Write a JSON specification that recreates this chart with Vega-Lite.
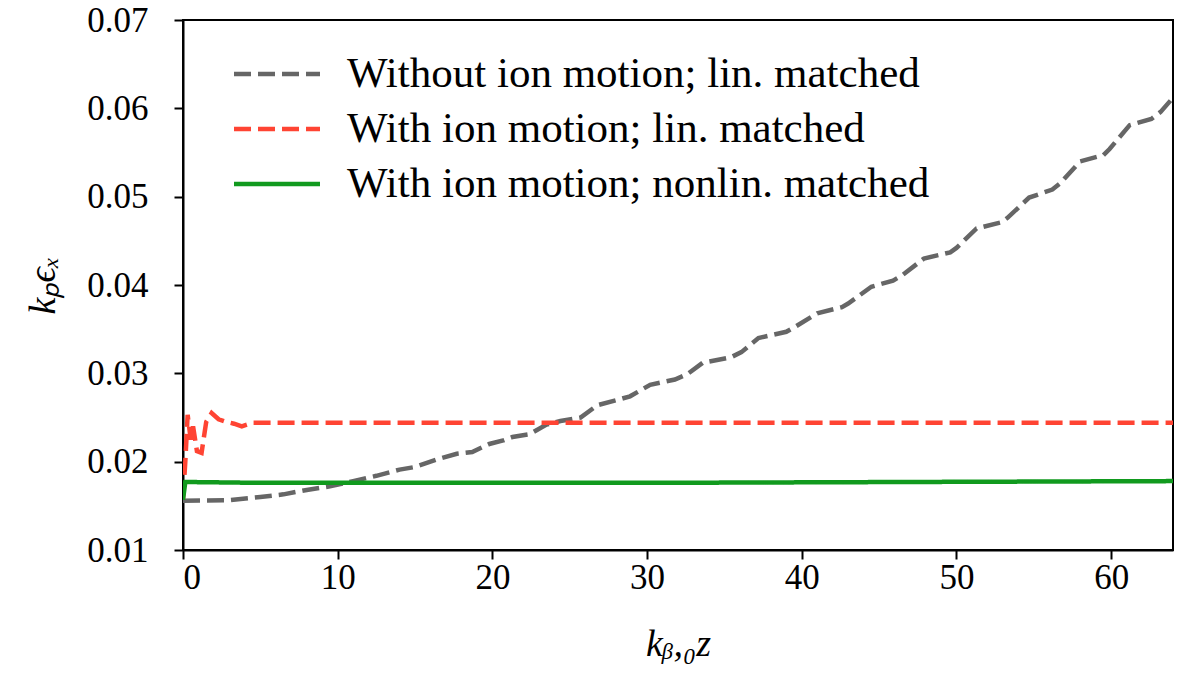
{
  "$schema": "https://vega.github.io/schema/vega-lite/v6.json",
  "width": 990,
  "height": 530,
  "autosize": {"type": "none"},
  "padding": {"left": 183, "top": 20, "right": 10, "bottom": 128},
  "background": "white",
  "config": {
    "view": {"stroke": "black", "strokeWidth": 2},
    "font": "Liberation Serif",
    "axis": {
      "grid": false,
      "domainColor": "black",
      "domainWidth": 2,
      "tickColor": "black",
      "tickWidth": 2,
      "tickSize": 9,
      "labelFont": "Liberation Serif",
      "labelFontSize": 35,
      "labelColor": "black",
      "titleFont": "Liberation Serif",
      "titleFontSize": 38,
      "titleFontWeight": "normal",
      "titleFontStyle": "italic",
      "titleColor": "black"
    }
  },
  "data": {
    "values": [
      {"s": "Without ion motion; lin. matched", "x": 0, "y": 0.01558},
      {"s": "Without ion motion; lin. matched", "x": 3, "y": 0.01565},
      {"s": "Without ion motion; lin. matched", "x": 5, "y": 0.016},
      {"s": "Without ion motion; lin. matched", "x": 6.5, "y": 0.0163},
      {"s": "Without ion motion; lin. matched", "x": 8, "y": 0.0168},
      {"s": "Without ion motion; lin. matched", "x": 9.5, "y": 0.0172},
      {"s": "Without ion motion; lin. matched", "x": 11, "y": 0.0178},
      {"s": "Without ion motion; lin. matched", "x": 12.5, "y": 0.0184},
      {"s": "Without ion motion; lin. matched", "x": 14, "y": 0.0191},
      {"s": "Without ion motion; lin. matched", "x": 15, "y": 0.0194},
      {"s": "Without ion motion; lin. matched", "x": 16.5, "y": 0.0203},
      {"s": "Without ion motion; lin. matched", "x": 17.7, "y": 0.0209},
      {"s": "Without ion motion; lin. matched", "x": 18.7, "y": 0.0211},
      {"s": "Without ion motion; lin. matched", "x": 19.8, "y": 0.022},
      {"s": "Without ion motion; lin. matched", "x": 20.7, "y": 0.0224},
      {"s": "Without ion motion; lin. matched", "x": 21.3, "y": 0.0228},
      {"s": "Without ion motion; lin. matched", "x": 22.4, "y": 0.0231},
      {"s": "Without ion motion; lin. matched", "x": 23.5, "y": 0.0242},
      {"s": "Without ion motion; lin. matched", "x": 24.4, "y": 0.0246},
      {"s": "Without ion motion; lin. matched", "x": 25.7, "y": 0.025},
      {"s": "Without ion motion; lin. matched", "x": 26.8, "y": 0.0264},
      {"s": "Without ion motion; lin. matched", "x": 28.1, "y": 0.027},
      {"s": "Without ion motion; lin. matched", "x": 28.9, "y": 0.0274},
      {"s": "Without ion motion; lin. matched", "x": 30.2, "y": 0.0287},
      {"s": "Without ion motion; lin. matched", "x": 31.8, "y": 0.0293},
      {"s": "Without ion motion; lin. matched", "x": 32.6, "y": 0.0299},
      {"s": "Without ion motion; lin. matched", "x": 33.6, "y": 0.0312},
      {"s": "Without ion motion; lin. matched", "x": 35.4, "y": 0.0318},
      {"s": "Without ion motion; lin. matched", "x": 36.1, "y": 0.0324},
      {"s": "Without ion motion; lin. matched", "x": 37.2, "y": 0.034},
      {"s": "Without ion motion; lin. matched", "x": 39.0, "y": 0.0347},
      {"s": "Without ion motion; lin. matched", "x": 39.6, "y": 0.0353},
      {"s": "Without ion motion; lin. matched", "x": 41.0, "y": 0.0368},
      {"s": "Without ion motion; lin. matched", "x": 42.6, "y": 0.0375},
      {"s": "Without ion motion; lin. matched", "x": 43.0, "y": 0.0379},
      {"s": "Without ion motion; lin. matched", "x": 44.5, "y": 0.0398},
      {"s": "Without ion motion; lin. matched", "x": 45.9, "y": 0.0405},
      {"s": "Without ion motion; lin. matched", "x": 46.5, "y": 0.0411},
      {"s": "Without ion motion; lin. matched", "x": 47.9, "y": 0.043},
      {"s": "Without ion motion; lin. matched", "x": 49.6, "y": 0.0437},
      {"s": "Without ion motion; lin. matched", "x": 50.0, "y": 0.0442},
      {"s": "Without ion motion; lin. matched", "x": 51.3, "y": 0.0464},
      {"s": "Without ion motion; lin. matched", "x": 52.9, "y": 0.0471},
      {"s": "Without ion motion; lin. matched", "x": 53.3, "y": 0.0476},
      {"s": "Without ion motion; lin. matched", "x": 54.7, "y": 0.0499},
      {"s": "Without ion motion; lin. matched", "x": 56.2, "y": 0.0508},
      {"s": "Without ion motion; lin. matched", "x": 56.7, "y": 0.0515},
      {"s": "Without ion motion; lin. matched", "x": 58.0, "y": 0.054},
      {"s": "Without ion motion; lin. matched", "x": 59.5, "y": 0.0547},
      {"s": "Without ion motion; lin. matched", "x": 59.9, "y": 0.0554},
      {"s": "Without ion motion; lin. matched", "x": 61.2, "y": 0.0581},
      {"s": "Without ion motion; lin. matched", "x": 62.6, "y": 0.0588},
      {"s": "Without ion motion; lin. matched", "x": 63.2, "y": 0.0596},
      {"s": "Without ion motion; lin. matched", "x": 64.0, "y": 0.0612},
      {"s": "With ion motion; lin. matched", "x": 0, "y": 0.0158},
      {"s": "With ion motion; lin. matched", "x": 0.15, "y": 0.02},
      {"s": "With ion motion; lin. matched", "x": 0.3, "y": 0.0253},
      {"s": "With ion motion; lin. matched", "x": 0.5, "y": 0.0225},
      {"s": "With ion motion; lin. matched", "x": 0.65, "y": 0.024},
      {"s": "With ion motion; lin. matched", "x": 0.9, "y": 0.0212},
      {"s": "With ion motion; lin. matched", "x": 1.2, "y": 0.021},
      {"s": "With ion motion; lin. matched", "x": 1.5, "y": 0.0245},
      {"s": "With ion motion; lin. matched", "x": 1.85, "y": 0.0255},
      {"s": "With ion motion; lin. matched", "x": 2.3, "y": 0.0248},
      {"s": "With ion motion; lin. matched", "x": 2.8, "y": 0.0245},
      {"s": "With ion motion; lin. matched", "x": 3.3, "y": 0.0243},
      {"s": "With ion motion; lin. matched", "x": 3.8, "y": 0.024},
      {"s": "With ion motion; lin. matched", "x": 4.5, "y": 0.0244},
      {"s": "With ion motion; lin. matched", "x": 30, "y": 0.0244},
      {"s": "With ion motion; lin. matched", "x": 64, "y": 0.0244},
      {"s": "With ion motion; nonlin. matched", "x": 0, "y": 0.0157},
      {"s": "With ion motion; nonlin. matched", "x": 0.15, "y": 0.0177},
      {"s": "With ion motion; nonlin. matched", "x": 5, "y": 0.0176},
      {"s": "With ion motion; nonlin. matched", "x": 30, "y": 0.0176},
      {"s": "With ion motion; nonlin. matched", "x": 64, "y": 0.0178}
    ]
  },
  "mark": {"type": "line", "strokeWidth": 4.5, "clip": true},
  "encoding": {
    "x": {
      "field": "x",
      "type": "quantitative",
      "scale": {"domain": [0, 64], "nice": false, "zero": false},
      "axis": {"values": [0, 10, 20, 30, 40, 50, 60], "title": "kᵦ,₀z", "labelPadding": 1, "titlePadding": 30}
    },
    "y": {
      "field": "y",
      "type": "quantitative",
      "scale": {"domain": [0.01, 0.07], "nice": false, "zero": false},
      "axis": {"values": [0.01, 0.02, 0.03, 0.04, 0.05, 0.06, 0.07], "format": ".2f", "title": "kₚϵₓ", "labelPadding": 26, "titlePadding": 24}
    },
    "color": {
      "field": "s",
      "type": "nominal",
      "scale": {
        "domain": ["Without ion motion; lin. matched", "With ion motion; lin. matched", "With ion motion; nonlin. matched"],
        "range": ["#666666", "#ff4433", "#119a1e"]
      },
      "legend": {
        "title": null,
        "orient": "none",
        "legendX": 70,
        "legendY": 30,
        "symbolType": "M-2,0H2",
        "symbolSize": 1849,
        "symbolStrokeWidth": 4.5,
        "labelFont": "Liberation Serif",
        "labelFontSize": 43,
        "labelColor": "black",
        "labelOffset": 46,
        "rowPadding": 9,
        "labelLimit": 900
      }
    },
    "strokeDash": {
      "field": "s",
      "type": "nominal",
      "scale": {
        "domain": ["Without ion motion; lin. matched", "With ion motion; lin. matched", "With ion motion; nonlin. matched"],
        "range": [[17, 7], [17, 7], [1, 0]]
      },
      "legend": {
        "title": null,
        "orient": "none",
        "legendX": 70,
        "legendY": 30,
        "symbolType": "M-2,0H2",
        "symbolSize": 1849,
        "symbolStrokeWidth": 4.5,
        "labelFont": "Liberation Serif",
        "labelFontSize": 43,
        "labelColor": "black",
        "labelOffset": 46,
        "rowPadding": 9,
        "labelLimit": 900
      }
    }
  }
}
